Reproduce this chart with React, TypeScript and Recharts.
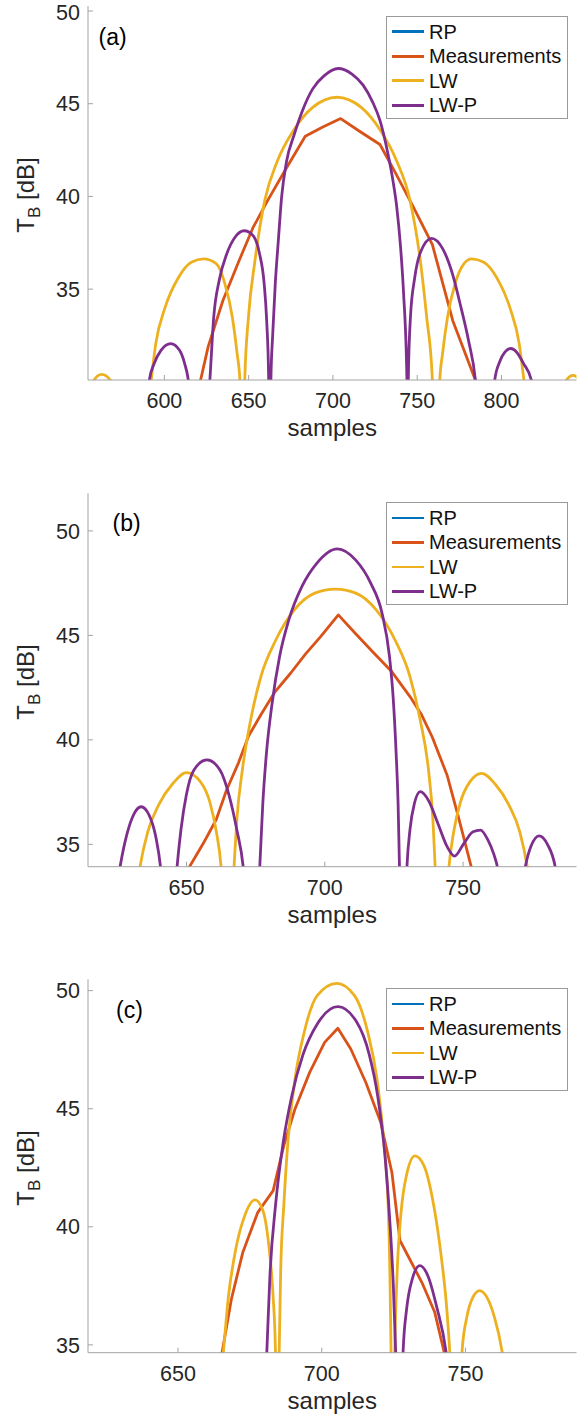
import { LineChart, Line, XAxis, YAxis } from "recharts";

const FONT = '"Liberation Sans", Helvetica, Arial, sans-serif';
const AXIS_GRAY = "#a3a3a3";
const TICK_TEXT = "#262626";

const seriesNames = ["RP", "Measurements", "LW", "LW-P"];
const seriesColors = ["#0072BD", "#D95319", "#EDB120", "#7E2F8E"];

// ---- panel (a)
const aTicksX = [600, 650, 700, 750, 800];
const aTicksY = [35, 40, 45, 50];

const aMeasX = [616, 621.5, 626, 634.8, 643.7, 652.5, 661.4, 672.5, 683.6, 694, 704.6, 716, 727.9, 737.5, 747.9, 759, 771.1, 784.5, 790];
const aMeasY = [27, 30.1, 31.9, 34.4, 36.4, 38.3, 39.8, 41.55, 43.25, 43.75, 44.2, 43.5, 42.8, 41.2, 39.4, 37.4, 33.3, 30.1, 28.5];

const aLwX = [554, 558.3, 562.8, 567.9, 580, 592.2, 594.9, 600.4, 608.2, 616, 623.3, 630.4, 635.9, 640.3, 643.2, 644.8, 646.2, 647.7, 649.9, 653.7, 659.6, 667, 676.9, 688, 702.4, 716.8, 727.9, 737.9, 745.7, 751.9, 755.6, 759, 761.2, 763.4, 765, 768, 772.5, 778, 782.2, 789.5, 797.3, 805, 810.5, 813.3, 826, 838.5, 842.5, 847];
const aLwY = [26, 30.1, 30.4, 30.1, 20, 30.1, 32.06, 34.0, 35.6, 36.45, 36.63, 36.4, 35.3, 33.5, 31.5, 30.1, 20, 30.1, 33.5, 36.5, 39.8, 41.9, 43.6, 44.8, 45.35, 44.8, 43.6, 41.9, 39.8, 36.5, 33.5, 30.1, 20, 30.1, 31.5, 33.5, 35.3, 36.4, 36.63, 36.45, 35.6, 34.0, 32.06, 30.1, 20, 30.1, 30.35, 30.1];

const aLwpX = [554, 588, 591.1, 594, 598, 603.8, 609, 612, 614.2, 620, 627, 629.3, 632.6, 637, 641.9, 647.4, 652.5, 656.5, 659.2, 660.7, 661.9, 662.5, 663.2, 664.3, 665.8, 667.6, 669.6, 672.5, 676.9, 681.8, 688, 694.7, 703.1, 711.3, 717.9, 723.5, 727.9, 732.4, 735.7, 737.9, 740.1, 741.9, 743.9, 744.3, 744.7, 746, 748.5, 752, 758.5, 765, 771, 776, 780.5, 784.5, 790, 796, 799, 802, 805.5, 809, 813, 817.7, 825, 845];
const aLwpY = [20, 22, 30.1, 31.0, 31.7, 32.06, 31.7, 31.0, 30.1, 22, 30.1, 33.5, 35.5, 36.9, 37.8, 38.15, 37.9, 36.9, 35.3, 33.3, 30.1, 15, 30.1, 32.6, 35.3, 37.6, 40.0, 41.9, 43.3, 44.6, 45.8, 46.5, 46.9, 46.6, 46.0, 45.1, 44.1, 42.4, 40.8, 39.4, 37.3, 34.8, 30.1, 15, 30.1, 33.5, 35.6, 37.0, 37.74, 37.2, 35.8, 34.0, 32.2, 30.1, 22, 30.1, 31.1, 31.6, 31.8, 31.6, 31.0, 30.1, 22, 20];

// ---- panel (b)
const bTicksX = [650, 700, 750];
const bTicksY = [35, 40, 45, 50];

const bMeasX = [647, 651.1, 656.1, 660.8, 664.5, 668.8, 672.5, 676.9, 682, 687.7, 693, 698.5, 704.9, 711, 717.3, 724, 730.8, 735, 738.8, 744.2, 748.3, 753, 756];
const bMeasY = [31.5, 33.93, 35.05, 36.2, 37.6, 38.9, 40.2, 41.2, 42.3, 43.2, 44.1, 44.94, 45.98, 45.1, 44.22, 43.3, 42.07, 41.2, 40.15, 38.32, 36.32, 33.9, 32];

const bLwX = [614, 628, 633.2, 636, 640, 645, 650, 655, 658.5, 660.8, 662.5, 664.8, 667.2, 668.2, 670.2, 673.2, 676.9, 682.3, 689, 696.4, 703.8, 711.2, 718.6, 725.4, 730.8, 734.5, 737.5, 739.1, 739.9, 742.4, 744.9, 746.6, 749, 752.5, 756.7, 761.5, 766.5, 770.5, 773.2, 778, 791];
const bLwY = [25, 28, 33.93, 35.6, 36.9, 37.9, 38.43, 38.0, 37.0, 35.6, 33.93, 28, 33.93, 36.16, 38.56, 40.95, 43.03, 44.78, 46.22, 47.02, 47.21, 47.02, 46.22, 44.78, 43.03, 40.95, 38.56, 36.16, 33.93, 28, 33.93, 35.6, 37.0, 38.0, 38.4, 37.9, 36.9, 35.6, 33.93, 28, 25];

const bLwpX = [614, 620.5, 626, 628.5, 631, 633.6, 636.5, 639, 640.6, 643.5, 646.6, 648, 650, 652.7, 657.4, 662.1, 665.5, 668.2, 670.5, 673.5, 676.5, 677.6, 678.9, 680.96, 683.65, 687, 691.7, 697.1, 704.5, 711.2, 716.6, 720.7, 723.4, 724.7, 725.8, 726.5, 727.0, 728.3, 729.7, 730.8, 732.4, 734.5, 737.5, 740.9, 744.2, 746.9, 750.3, 753.6, 756.3, 759, 761, 762.4, 767.5, 772.5, 774.5, 777.5, 780.5, 783.3, 788, 791];
const bLwpY = [25, 28, 33.93, 35.5, 36.45, 36.8, 36.4, 35.3, 33.93, 28, 33.93, 35.7, 37.4, 38.56, 39.04, 38.56, 37.3, 35.7, 33.93, 28, 33.93, 36.96, 39.35, 41.75, 43.98, 45.74, 47.33, 48.45, 49.14, 48.6, 47.5, 46.06, 43.98, 42.07, 39.35, 36.96, 33.93, 28, 33.93, 35.7, 36.96, 37.52, 37.1, 36.0, 34.9, 34.44, 35.05, 35.6, 35.68, 35.2, 34.57, 33.93, 28, 33.93, 34.9, 35.41, 35.0, 33.93, 28, 25];

// ---- panel (c)
const cTicksX = [650, 700, 750];
const cTicksY = [35, 40, 45, 50];

const cMeasX = [660, 665.4, 668.6, 672.5, 677.7, 683.1, 686.8, 690.7, 695.8, 701, 705.6, 710.1, 715.3, 720.5, 724.4, 727.2, 734.8, 739.3, 742.5, 746];
const cMeasY = [31, 34.73, 36.95, 38.9, 40.6, 41.53, 43.44, 44.99, 46.54, 47.81, 48.41, 47.53, 46.12, 44.43, 42.3, 39.42, 37.65, 36.38, 34.73, 32];

const cLwX = [618, 660, 665.8, 667.5, 670, 673, 676.8, 679.5, 681.5, 683, 683.9, 684.5, 685.2, 685.7, 686.8, 688.3, 690.7, 693.9, 698.4, 705.2, 711.4, 716, 719.2, 721.5, 723.1, 723.7, 724.1, 724.7, 725.4, 726.2, 727.5, 729.5, 732.4, 735.5, 738.5, 741.5, 743.5, 744.5, 746.6, 748.8, 750.5, 752.5, 754.9, 757.5, 760, 762.7, 768, 789];
const cLwY = [28, 28, 34.73, 37.0, 39.0, 40.4, 41.14, 40.7, 39.3, 37.2, 34.73, 28, 34.73, 38.08, 40.9, 43.7, 46.26, 48.24, 49.79, 50.31, 49.79, 48.24, 46.26, 43.7, 40.9, 38.08, 34.73, 28, 34.73, 38.0, 40.5, 42.2, 43.0, 42.6, 41.2, 38.8, 36.5, 34.73, 28, 34.73, 36.2, 37.0, 37.3, 37.0, 36.2, 34.73, 28, 28];

const cLwpX = [619, 678, 680.9, 682, 684, 686.5, 689.5, 693.5, 698.5, 705.6, 712, 716.5, 719.5, 722, 723.8, 724.9, 725.7, 727, 728.3, 729.5, 731.5, 734.1, 737, 740, 743.2, 748, 789];
const cLwpY = [28, 28, 34.73, 38.0, 41.0, 43.5, 45.5, 47.3, 48.6, 49.32, 48.7, 47.3, 45.5, 43.0, 40.0, 37.5, 34.73, 28, 34.73, 36.5, 37.8, 38.36, 37.9, 36.6, 34.73, 28, 28];

type Pt = { x: number; y: number };
const zip = (xs: number[], ys: number[]): Pt[] => xs.map((x, i) => ({ x, y: ys[i] }));

const X_AXIS_H = 60;
const PLOT_LEFT = 88;
const RIGHT_PAD = 8.5;

interface PanelProps {
  tag: string;
  top: number;
  height: number;
  padTop: number;
  padBottom: number;
  xDomain: [number, number];
  yDomain: [number, number];
  xTicks: number[];
  yTicks: number[];
  meas: Pt[];
  lw: Pt[];
  lwp: Pt[];
  legendTop: number;
  tagLeft: number;
  tagTop: number;
}

function Panel(p: PanelProps) {
  const plotBottom = p.height - p.padBottom - X_AXIS_H;
  const midY = (p.padTop + plotBottom) / 2;
  const midX = (PLOT_LEFT + 585 - RIGHT_PAD) / 2;
  const lineProps = {
    xAxisId: "b",
    yAxisId: "l",
    dataKey: "y",
    dot: false,
    strokeWidth: 2.8,
    isAnimationActive: false,
    strokeLinejoin: "round" as const,
  };
  return (
    <div style={{ position: "absolute", left: 0, top: p.top, width: 585, height: p.height }}>
      <LineChart
        width={585}
        height={p.height}
        margin={{ top: p.padTop, right: RIGHT_PAD, bottom: p.padBottom, left: 0 }}
      >
        <XAxis
          xAxisId="b"
          type="number"
          dataKey="x"
          domain={p.xDomain}
          ticks={p.xTicks}
          allowDataOverflow
          height={X_AXIS_H}
          stroke={AXIS_GRAY}
          tickSize={-5}
          tickMargin={18}
          tick={{ fill: TICK_TEXT, fontSize: 21.5, fontFamily: FONT }}
          label={{
            content: () => (
              <text x={midX} y={plotBottom + 56} textAnchor="middle" fontSize={24} fill={TICK_TEXT} fontFamily={FONT}>
                samples
              </text>
            ),
          }}
        />
        <XAxis
          xAxisId="t"
          orientation="top"
          type="number"
          dataKey="x"
          domain={p.xDomain}
          ticks={p.xTicks}
          allowDataOverflow
          height={0}
          stroke={AXIS_GRAY}
          tickSize={-5}
          tick={false}
        />
        <YAxis
          yAxisId="l"
          type="number"
          domain={p.yDomain}
          ticks={p.yTicks}
          allowDataOverflow
          width={PLOT_LEFT}
          stroke={AXIS_GRAY}
          tickSize={-5}
          tickMargin={13}
          tick={{ fill: TICK_TEXT, fontSize: 21.5, fontFamily: FONT }}
          label={{
            content: () => (
              <text
                transform={`translate(33.5,${midY + 2}) rotate(-90)`}
                textAnchor="middle"
                fontSize={24}
                fill={TICK_TEXT}
                fontFamily={FONT}
              >
                <tspan>T</tspan>
                <tspan dy={6.5} fontSize={17}>B</tspan>
                <tspan dy={-6.5}> [dB]</tspan>
              </text>
            ),
          }}
        />
        <YAxis
          yAxisId="r"
          orientation="right"
          type="number"
          domain={p.yDomain}
          ticks={p.yTicks}
          allowDataOverflow
          width={0}
          stroke={AXIS_GRAY}
          tickSize={-5}
          tick={false}
        />
        <Line {...lineProps} data={p.meas} type="linear" stroke={seriesColors[1]} />
        <Line {...lineProps} data={p.lw} type="monotone" stroke={seriesColors[2]} />
        <Line {...lineProps} data={p.lwp} type="monotone" stroke={seriesColors[3]} />
      </LineChart>

      <div
        style={{
          position: "absolute",
          left: p.tagLeft,
          top: p.tagTop,
          fontSize: 23,
          lineHeight: "24px",
          color: "#000",
        }}
      >
        {p.tag}
      </div>

      <div
        style={{
          position: "absolute",
          left: 386,
          top: p.legendTop,
          width: 182,
          height: 103,
          boxSizing: "border-box",
          border: "1px solid #9a9a9a",
          background: "#fff",
        }}
      >
        {seriesNames.map((name, i) => (
          <div
            key={name}
            style={{
              position: "absolute",
              left: 0,
              top: 2.5 + i * 24.5,
              height: 24.5,
              display: "flex",
              alignItems: "center",
            }}
          >
            <div style={{ marginLeft: 5, width: 32, height: 2.8, background: seriesColors[i] }} />
            <span style={{ marginLeft: 5, fontSize: 20, lineHeight: "24.5px", color: "#111", whiteSpace: "nowrap" }}>
              {name}
            </span>
          </div>
        ))}
      </div>
    </div>
  );
}

export default function App() {
  return (
    <div
      style={{
        position: "absolute",
        left: 0,
        top: 0,
        width: 585,
        height: 1418,
        background: "#fff",
        fontFamily: FONT,
        overflow: "hidden",
      }}
    >
      <Panel
        tag="(a)"
        top={0}
        height={470}
        padTop={6}
        padBottom={30}
        xDomain={[554.7, 844.5]}
        yDomain={[30.1, 50.27]}
        xTicks={aTicksX}
        yTicks={aTicksY}
        meas={zip(aMeasX, aMeasY)}
        lw={zip(aLwX, aLwY)}
        lwp={zip(aLwpX, aLwpY)}
        legendTop={16}
        tagLeft={98.5}
        tagTop={24.7}
      />
      <Panel
        tag="(b)"
        top={470}
        height={470}
        padTop={23.3}
        padBottom={13.3}
        xDomain={[614.4, 791]}
        yDomain={[33.93, 51.8]}
        xTicks={bTicksX}
        yTicks={bTicksY}
        meas={zip(bMeasX, bMeasY)}
        lw={zip(bLwX, bLwY)}
        lwp={zip(bLwpX, bLwpY)}
        legendTop={32.3}
        tagLeft={112.5}
        tagTop={40.8}
      />
      <Panel
        tag="(c)"
        top={940}
        height={478}
        padTop={39.3}
        padBottom={5.3}
        xDomain={[618.7, 788.6]}
        yDomain={[34.67, 50.48]}
        xTicks={cTicksX}
        yTicks={cTicksY}
        meas={zip(cMeasX, cMeasY)}
        lw={zip(cLwX, cLwY)}
        lwp={zip(cLwpX, cLwpY)}
        legendTop={48.3}
        tagLeft={116}
        tagTop={57.8}
      />
    </div>
  );
}
